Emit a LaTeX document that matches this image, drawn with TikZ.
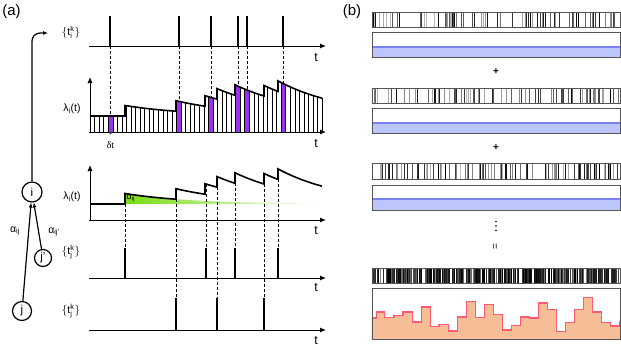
\documentclass[tikz,border=0pt]{standalone}
\usepackage{fontspec}
\setmainfont{Liberation Sans}
\newfontfamily\seriffont{Liberation Serif}
\usetikzlibrary{arrows.meta,fadings}
\definecolor{purp}{RGB}{155,50,240}
\definecolor{grn}{RGB}{120,220,20}
\definecolor{bfill}{RGB}{188,198,250}
\definecolor{bline}{RGB}{120,130,240}
\definecolor{hfill}{RGB}{246,190,150}
\definecolor{hline}{RGB}{255,90,115}
\definecolor{boxgray}{RGB}{85,85,85}
\tikzfading[name=gfade, left color=transparent!0, middle color=transparent!25, right color=transparent!100]
\newcommand{\spk}[1]{$\{\mathrm{t}^{\mathrm{k}}_{\mathrm{#1}}\}$}
\begin{document}
\begin{tikzpicture}[x=1pt,y=-1pt,
  declare function={lam(\x)=10.5*((\x>124.995)*exp(-(\x-125)/65)+(\x>175.995)*exp(-(\x-176)/65)+(\x>204.995)*exp(-(\x-205)/65)+(\x>216.995)*exp(-(\x-217)/65)+(\x>234.995)*exp(-(\x-235)/65)+(\x>263.995)*exp(-(\x-264)/65)+(\x>277.995)*exp(-(\x-278)/65));},
  axis/.style={line width=0.9pt,-{Latex[length=6pt,width=5pt]}},
  spike/.style={line width=1.8pt},
  guide/.style={line width=0.8pt,dash pattern=on 3pt off 2pt},
  curve/.style={line width=1.6pt,line join=miter},
  hatch/.style={line width=0.5pt},
  lbl/.style={font=\fontsize{10.5}{12}\selectfont,inner sep=0pt},
  tlbl/.style={font=\fontsize{12.5}{14}\selectfont,inner sep=0pt},
  panel/.style={font=\fontsize{15}{17}\selectfont,inner sep=0pt},
  vert/.style={circle,draw,line width=1.2pt,fill=white,inner sep=0pt,font=\fontsize{11.5}{13}\selectfont},
  frame/.style={draw=boxgray,line width=0.8pt},
]
\useasboundingbox (0,0) rectangle (621,349);

% ---------- panel labels
\node[panel] (pa) at (11.5,12) {(a)};
\node[panel] (pb) at (352,12) {(b)};

% ---------- top spike train {t_i^k}
\draw[axis] (89,46) -- (326,46);
\node[tlbl] (t1) at (316,58) {t};
\node[lbl] (ti) at (71,32) {\spk{i}};
\foreach \xx in {110,179,211,238,247,283} {
  \draw[spike] (\xx,46) -- (\xx,16);
  \draw[guide] (\xx,46) -- (\xx,{116-lam(\xx)});
}

% ---------- panel 2: binned intensity
\foreach \k in {4,19,26,32,34,42} {
  \pgfmathsetmacro\xl{90+4.55*\k}
  \pgfmathsetmacro\xr{\xl+4.55}
  \fill[purp] (\xl,132) -- (\xl,{116-lam(\xl)}) -- (\xr,{116-lam(\xr)}) -- (\xr,132) -- cycle;
}
\foreach \k in {1,...,51} {
  \pgfmathsetmacro\xx{90+4.55*\k}
  \draw[hatch] (\xx,132) -- (\xx,{116-lam(\xx)});
}
\draw[axis] (89,132) -- (326,132);
\draw[axis] (90,132) -- (90,77);
\node[tlbl] (t2) at (316,144) {t};
\node[lbl] (l2) at (72,109) {λ\textsubscript{i}(t)};
\fill[black!75] (110.5,133) circle (1.4);
\node[lbl,font=\seriffont\fontsize{10}{11}\selectfont] (dt) at (110.5,145) {δt};

% ---------- panel 3: intensity with kernel
\fill[grn, path fading=gfade] (125,204) -- plot[domain=125:322,samples=40] (\x,{204-10.5*exp(-(\x-125)/65)}) -- (322,204) -- cycle;
\node[inner sep=0pt,anchor=west,font=\fontsize{9}{10}\selectfont] (al) at (126.5,198.5) {α\textsubscript{ij}};
\draw[axis] (89,220) -- (326,220);
\draw[axis] (90,220) -- (90,165);
\node[tlbl] (t3) at (316,231) {t};
\node[lbl] (l3) at (72,197) {λ\textsubscript{i}(t)};

\foreach \base in {116,204} {
  \draw[curve] (90,\base) -- (125,\base)
    -- plot[domain=125:175.99,samples=20] (\x,{\base-lam(\x)})
    -- plot[domain=176:204.99,samples=12] (\x,{\base-lam(\x)})
    -- plot[domain=205:216.99,samples=6] (\x,{\base-lam(\x)})
    -- plot[domain=217:234.99,samples=8] (\x,{\base-lam(\x)})
    -- plot[domain=235:263.99,samples=12] (\x,{\base-lam(\x)})
    -- plot[domain=264:277.99,samples=8] (\x,{\base-lam(\x)})
    -- plot[domain=278:322,samples=16] (\x,{\base-lam(\x)});
}

% ---------- panel 4
\draw[axis] (89,278) -- (326,278);
\node[tlbl] (t4) at (316,288) {t};
\node[lbl] (lj1) at (71,252) {\spk{j}};
\foreach \xx in {125,206,235,278} {
  \draw[spike] (\xx,278) -- (\xx,248);
  \draw[guide] (\xx,{204-lam(\xx-0.02)}) -- (\xx,248);
}

% ---------- panel 5
\draw[axis] (89,330) -- (326,330);
\node[tlbl] (t5) at (316,341) {t};
\node[lbl] (lj2) at (71,311) {\spk{j}};
\foreach \xx in {176,217,264} {
  \draw[spike] (\xx,330) -- (\xx,298);
  \draw[guide] (\xx,{204-lam(\xx-0.02)}) -- (\xx,298);
}

% ---------- network
\node[vert,minimum size=20pt] (i) at (32,192) {i};
\node[vert,minimum size=17pt] (jp) at (43,258) {j'};
\node[vert,minimum size=19pt] (j) at (22,311) {j};
\coordinate (out) at (48,33);
\draw[line width=1.2pt,-{Latex[length=5pt,width=4pt]}] (j) -- (i);
\draw[line width=1.2pt,-{Latex[length=5pt,width=4pt]}] (jp) -- (i);
\draw[line width=1.2pt,rounded corners=8pt,-{Latex[length=5pt,width=4pt]}] (i.north) -- (32,33) -- (out);
\node[lbl] (a1) at (15,231) {α\textsubscript{ij}};
\node[lbl] (a2) at (54,232) {α\textsubscript{ij'}};

% ---------- panel b
\pgfmathsetseed{4711}
\foreach \ya/\yb/\n in {12/27/85, 88/103/85, 163/179/95} {
  \foreach \k in {1,...,\n} {
    \pgfmathsetmacro\xx{373+246*rnd}
    \pgfmathtruncatemacro\gg{25+75*rnd}
    \draw[black!\gg, line width=0.75pt] (\xx,\ya) -- (\xx,\yb);
  }
  \draw[frame,line width=0.6pt] (372,\ya) rectangle (620,\yb);
}
\foreach \k in {1,...,360} {
  \pgfmathsetmacro\xx{373+246*rnd}
  \pgfmathtruncatemacro\gg{100-70*rnd*rnd}
  \draw[black!\gg, line width=1.1pt] (\xx,268) -- (\xx,283);
}
\draw[frame,line width=0.6pt] (372,268) rectangle (620,283);

\foreach \ya/\ym/\yb in {32/47/57, 108/123/133, 185/199/210} {
  \fill[bfill] (372,\ym) rectangle (620,\yb);
  \draw[bline,line width=1.2pt] (372,\ym) -- (620,\ym);
  \draw[frame] (372,\ya) rectangle (620,\yb);
}
\node[inner sep=0pt,font=\bfseries\fontsize{10}{11}\selectfont] (plus1) at (496,72) {+};
\node[inner sep=0pt,font=\bfseries\fontsize{10}{11}\selectfont] (plus2) at (496,148) {+};
\foreach \yy in {221.5,226,230.5} \fill (496,\yy) circle (0.9);
\node[inner sep=0pt,rotate=90,font=\fontsize{10}{11}\selectfont] (eq) at (496,247) {=};

% histogram
\fill[hfill] (371.5,339) -- (371.5,318) -| (376.3,312) -| (384.7,317.7) -| (394,315.3) -| (403,312) -| (412.3,322) -| (421.3,307) -| (430.3,326.3) -| (439,324.3) -| (448.7,331) -| (457.3,317) -| (466.3,301.3) -| (475.3,317.7) -| (484.7,304.7) -| (493.7,314.3) -| (502.7,330) -| (511.3,325.3) -| (520.3,317) -| (529.7,318) -| (538.7,303) -| (547.3,309.7) -| (556.7,331.3) -| (565.7,322.7) -| (574.7,309.7) -| (583.7,297.3) -| (592.3,312) -| (601.3,322.7) -| (610.3,326) -| (619.3,321.3) -- (620,321.3) -- (620,339) -- cycle;
\draw[hline,line width=1.5pt,line join=miter] (371.5,318) -| (376.3,312) -| (384.7,317.7) -| (394,315.3) -| (403,312) -| (412.3,322) -| (421.3,307) -| (430.3,326.3) -| (439,324.3) -| (448.7,331) -| (457.3,317) -| (466.3,301.3) -| (475.3,317.7) -| (484.7,304.7) -| (493.7,314.3) -| (502.7,330) -| (511.3,325.3) -| (520.3,317) -| (529.7,318) -| (538.7,303) -| (547.3,309.7) -| (556.7,331.3) -| (565.7,322.7) -| (574.7,309.7) -| (583.7,297.3) -| (592.3,312) -| (601.3,322.7) -| (610.3,326) -| (619.3,321.3) -- (620,321.3);
\draw[frame] (372,288) rectangle (620,339);
\end{tikzpicture}
\end{document}
